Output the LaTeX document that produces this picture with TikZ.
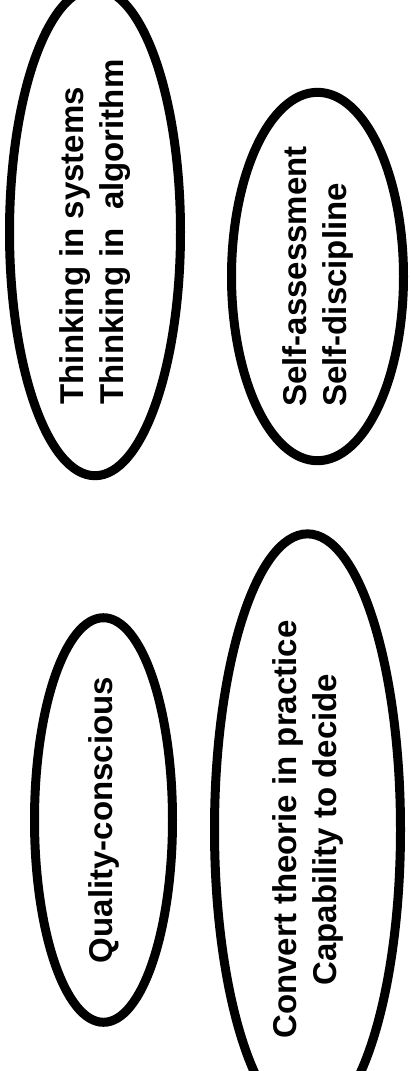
\documentclass[tikz,border=0pt]{standalone}
\usepackage{fontspec}
\setmainfont{Liberation Sans}
\usepackage{tikz}
\usetikzlibrary{shapes.geometric}
\tikzset{
  ovalo/.style={
    ellipse,
    draw=black,
    line width=9pt,
    rotate=90,
    inner sep=0pt,
    font=\fontsize{33}{40}\selectfont\bfseries
  }
}
\begin{document}
\begin{tikzpicture}[x=1pt,y=-1pt]
\useasboundingbox (0,0) rectangle (411,1071);
\node[ovalo,align=left,minimum width=446pt,minimum height=171pt] (sistemas) at (95,232) {Thinking in systems\\Thinking in\ \ algorithm};
\node[ovalo,align=left,minimum width=328pt,minimum height=172pt] (autoeval) at (317.5,276.5) {Self-assessment\\Self-discipline};
\node[ovalo,align=center,minimum width=383pt,minimum height=138pt] (calidad) at (103.5,820) {Quality-conscious};
\node[ovalo,align=center,minimum width=470pt,minimum height=186pt] (practica) at (307.5,829.5) {Convert theorie in practice\\Capability to decide};
\end{tikzpicture}
\end{document}
